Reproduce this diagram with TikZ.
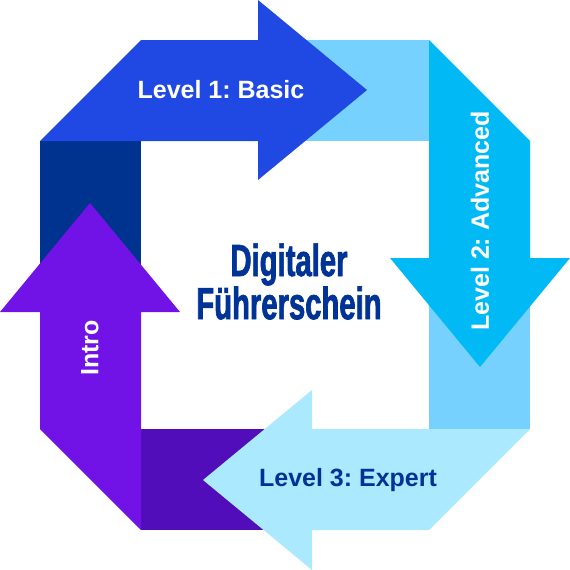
\documentclass[tikz,border=0pt]{standalone}
\usepackage{fontspec}
\setmainfont{Liberation Sans}
\newfontfamily\titlefont[FakeStretch=0.65, BoldFeatures={FakeBold=1.5}]{Liberation Sans}
\usetikzlibrary{positioning}
\frenchspacing

\definecolor{basicblue}{RGB}{31,73,226}
\definecolor{advblue}{RGB}{0,185,245}
\definecolor{expertblue}{RGB}{170,233,254}
\definecolor{introviolet}{RGB}{113,19,230}
\definecolor{linklight}{RGB}{119,209,254}
\definecolor{linknavy}{RGB}{0,51,143}
\definecolor{linkviolet}{RGB}{82,13,186}
\definecolor{textnavy}{RGB}{0,51,150}

\begin{document}
\begin{tikzpicture}[
  x=1pt, y=-1pt,
  lvl/.style={fill=#1, draw=none},
  link/.style={fill=#1, draw=none},
  lbl/.style={font=\fontsize{25}{30}\selectfont\bfseries, inner sep=0pt},
]
\useasboundingbox (0,0) rectangle (570,570);
% corner links (behind the arrow heads)
\fill[link=linklight] (258,40) rectangle (429,141);
\fill[link=linklight] (429,258) rectangle (530,429);
\fill[link=linkviolet] (141,429) rectangle (312,530);
\fill[link=linknavy] (40,141) rectangle (141,312);
% the four arrows, clockwise
\fill[lvl=basicblue] (40,141) -- (141,40) -- (258,40) -- (258,0) -- (367,90) -- (258,180) -- (258,141) -- cycle;
\fill[lvl=advblue] (429,40) -- (530,141) -- (530,258) -- (570,258) -- (480,367) -- (390,258) -- (429,258) -- cycle;
\fill[lvl=expertblue] (530,429) -- (429,530) -- (312,530) -- (312,570) -- (203,480) -- (312,390) -- (312,429) -- cycle;
\fill[lvl=introviolet] (141,530) -- (40,429) -- (40,312) -- (0,312) -- (90,203) -- (180,312) -- (141,312) -- cycle;
% labels
\node[lbl, text=white] (basic) at (221,90) {Level 1: Basic};
\node[lbl, text=white, rotate=90] (advanced) at (480,221) {Level 2: Advanced};
\node[lbl, text=textnavy] (expert) at (348,480) {Level 3: Expert};
\node[lbl, text=white, rotate=90] (intro) at (90,348) {Intro};
\node[font=\titlefont\fontsize{45}{40}\selectfont\bfseries, text=textnavy, align=center, inner sep=0pt] (title) at (289,281.5) {Digitaler\\Führerschein};
\end{tikzpicture}
\end{document}
